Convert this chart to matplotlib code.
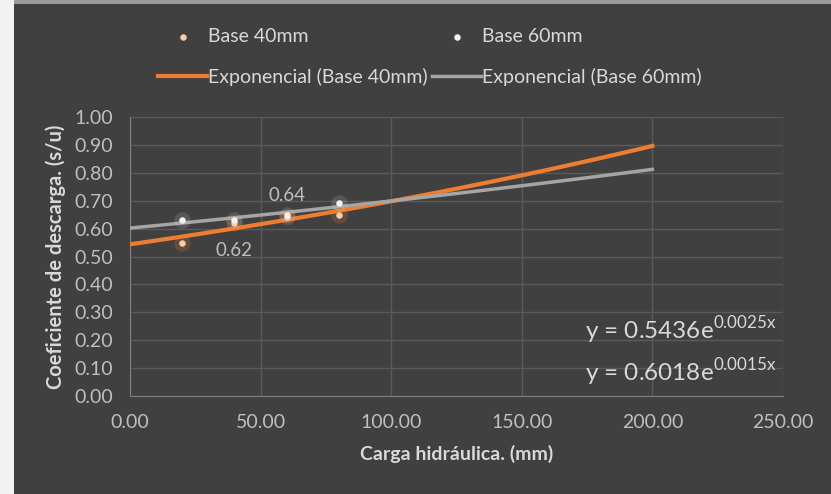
import matplotlib.pyplot as plt
import numpy as np
from matplotlib.patches import Rectangle

plt.rcParams['font.family'] = ['Lato', 'DejaVu Sans']

# data
carga = [20, 40, 60, 80]
base40 = [0.55, 0.62, 0.64, 0.65]
base60 = [0.63, 0.63, 0.65, 0.69]
fit40 = (0.5436, 0.0025)
fit60 = (0.6018, 0.0015)
fit_x = np.linspace(0, 200, 101)

bg = '#404040'
txt = '#bfbfbf'
orange = '#ED7D31'
grey = '#A5A5A5'

fig = plt.figure(figsize=(8.31, 4.94), dpi=100, facecolor=bg)
fig.patches.append(Rectangle((0, 0), 14/831, 1, transform=fig.transFigure,
                             facecolor='#f2f2f2', edgecolor='none', zorder=0))
fig.patches.append(Rectangle((14/831, 1-4/494), 1, 4/494, transform=fig.transFigure,
                             facecolor='#9a9a9a', edgecolor='none', zorder=0))

ax = fig.add_axes([130/831, 1-396/494, 653/831, 279/494])
ax.set_facecolor(bg)

# trend lines
l40, = ax.plot(fit_x, fit40[0]*np.exp(fit40[1]*fit_x), color=orange, lw=3, zorder=3)
l60, = ax.plot(fit_x, fit60[0]*np.exp(fit60[1]*fit_x), color=grey, lw=2.5, zorder=3)

# points with soft glow
ax.scatter(carga, base40, s=140, color=orange, alpha=0.2, lw=0, zorder=4)
ax.scatter(carga, base60, s=140, color='#e0e0e0', alpha=0.15, lw=0, zorder=4)
p40 = ax.scatter(carga, base40, s=22, color='#f8cbad', lw=0, zorder=5)
p60 = ax.scatter(carga, base60, s=22, color='#f2f2f2', lw=0, zorder=5)

ax.text(40, 0.52, '0.62', color=txt, fontsize=13.5, ha='center', va='center', zorder=6)
ax.text(60, 0.72, '0.64', color=txt, fontsize=13.5, ha='center', va='center', zorder=6)

ax.text(0.99, 0.235, r'y = 0.5436e$^{\mathregular{0.0025x}}$', transform=ax.transAxes, color='#d9d9d9',
        fontsize=17.5, ha='right', va='center')
ax.text(0.99, 0.085, r'y = 0.6018e$^{\mathregular{0.0015x}}$', transform=ax.transAxes, color='#d9d9d9',
        fontsize=17.5, ha='right', va='center')

ax.set_xlim(0, 250)
ax.set_ylim(0, 1.0)
ax.set_xticks(np.arange(0, 251, 50))
ax.set_yticks(np.arange(0, 1.01, 0.1))
ax.set_xticklabels(['%.2f' % v for v in np.arange(0, 251, 50)])
ax.set_yticklabels(['%.2f' % v for v in np.arange(0, 1.01, 0.1)])
ax.grid(True, color='#5a5a5a', lw=1)
ax.set_axisbelow(True)
for s in ['top', 'right']:
    ax.spines[s].set_visible(False)
for s in ['left', 'bottom']:
    ax.spines[s].set_color('#7f7f7f')
ax.tick_params(axis='y', colors=txt, labelsize=14, length=0, pad=12)
ax.tick_params(axis='x', colors=txt, labelsize=14, length=0, pad=13)

ax.set_xlabel('Carga hidráulica. (mm)', color='#d9d9d9', fontsize=14, fontweight='bold', labelpad=10)
ax.set_ylabel('Coeficiente de descarga. (s/u)', color='#d9d9d9', fontsize=14.5, fontweight='bold', labelpad=6)

leg = fig.legend([p40, l40, p60, l60],
                 ['Base 40mm', 'Exponencial (Base 40mm)', 'Base 60mm', 'Exponencial (Base 60mm)'],
                 ncol=2, loc='upper center', bbox_to_anchor=(430/831, 1-11/494),
                 frameon=False, fontsize=14, labelcolor='#d9d9d9',
                 handlelength=2.5, handletextpad=0.05, columnspacing=0.25, labelspacing=1.15)

plt.savefig('out.png', dpi=100, facecolor=fig.get_facecolor())
